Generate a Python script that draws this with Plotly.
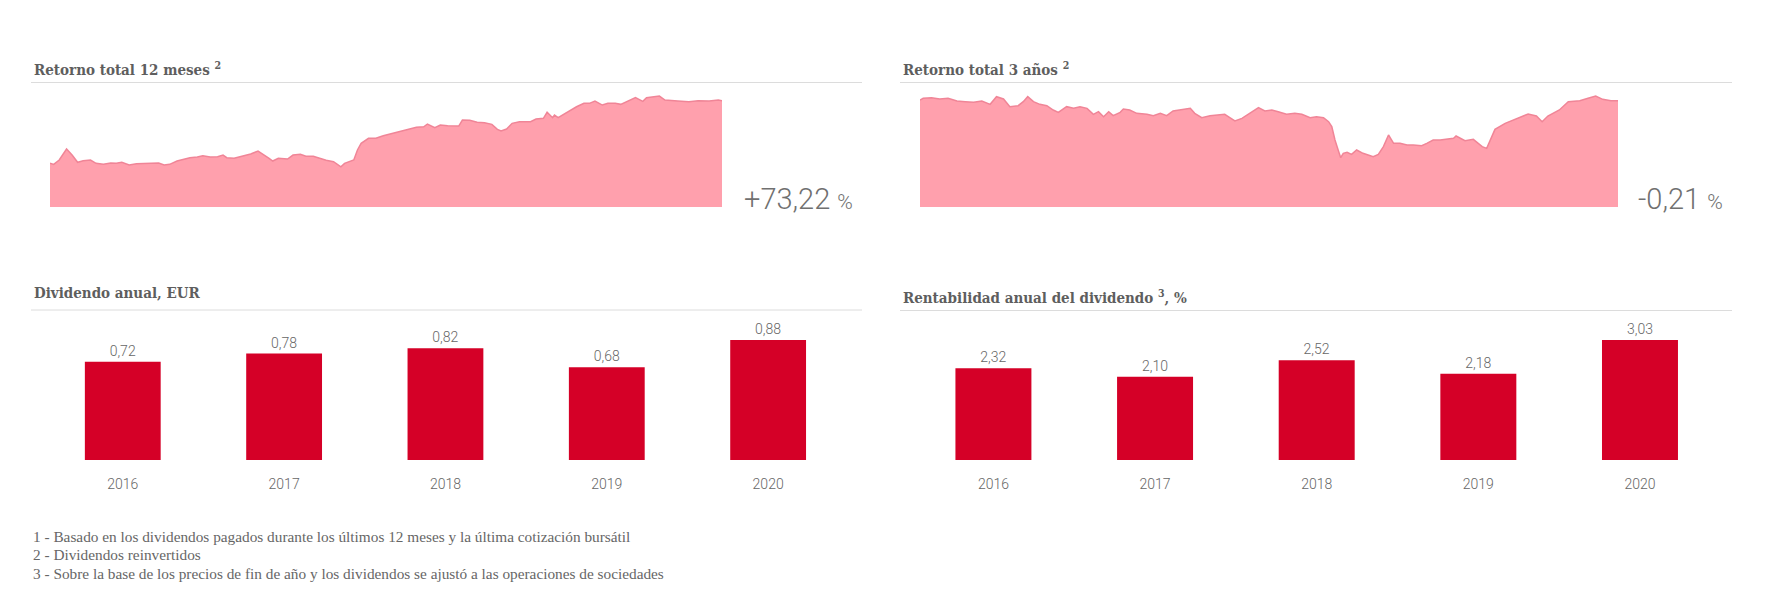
import plotly.graph_objects as go

W, H = 1777, 601

# ---------------- data ----------------
ret12_days = [0, 2, 5, 9, 12, 15, 18, 22, 25, 29, 33, 36, 39, 43, 47, 51, 54, 59, 62, 65, 69, 72, 76, 80, 83,
              87, 91, 94, 96, 100, 103, 109, 113, 116, 119, 121, 124, 129, 132, 136, 139, 143, 147, 150, 154,
              158, 160, 165, 167, 169, 173, 177, 181, 186, 190, 195, 199, 203, 205, 209, 212, 216, 222, 224,
              228, 232, 236, 240, 243, 245, 248, 251, 255, 261, 264, 268, 270, 273, 274, 276, 279, 282, 286,
              290, 293, 296, 300, 303, 307, 310, 313, 318, 322, 324, 331, 334, 341, 347, 352, 358, 363, 365]
ret12_vals = [100.0, 98.8, 103.9, 116.7, 109.7, 101.2, 103.0, 103.9, 100.0, 98.8, 100.4, 100.0, 101.2, 98.0,
              99.5, 100.0, 100.0, 100.4, 98.0, 98.8, 102.7, 104.7, 106.6, 107.4, 108.9, 107.4, 107.7, 109.7,
              106.6, 105.9, 107.7, 110.9, 114.4, 110.5, 105.9, 102.7, 105.9, 105.0, 109.7, 110.5, 108.2,
              108.2, 105.0, 103.5, 101.9, 96.0, 100.0, 103.9, 115.6, 123.4, 129.3, 129.3, 132.3, 135.1,
              137.8, 140.1, 142.1, 142.8, 146.0, 141.7, 144.8, 144.0, 143.6, 150.7, 150.3, 148.0, 147.5,
              145.6, 139.8, 137.8, 140.1, 146.8, 148.7, 148.7, 151.8, 152.7, 159.7, 153.4, 156.5, 153.4,
              157.3, 161.2, 166.2, 170.2, 170.2, 172.9, 168.2, 170.2, 170.2, 169.0, 172.1, 176.8, 172.5,
              176.8, 178.7, 174.1, 172.9, 172.1, 173.2, 172.9, 174.1, 173.22]

ret3_days = [0, 5, 18, 31, 44, 58, 71, 84, 97, 110, 120, 131, 141, 154, 162, 169, 178, 188, 199, 209, 217,
             230, 241, 251, 262, 272, 280, 288, 296, 303, 314, 319, 329, 340, 356, 366, 377, 387, 397, 411,
             424, 431, 442, 455, 468, 478, 486, 494, 505, 515, 526, 531, 541, 552, 562, 575, 588, 599, 612,
             622, 633, 641, 646, 651, 656, 660, 664, 670, 677, 685, 695, 703, 711, 719, 727, 735, 743, 753,
             764, 774, 787, 795, 805, 816, 837, 841, 855, 868, 882, 889, 902, 918, 936, 954, 967, 976, 985,
             1003, 1017, 1035, 1048, 1060, 1071, 1084, 1095]
ret3_vals = [100.0, 100.5, 100.7, 100.3, 100.5, 99.7, 99.5, 99.3, 99.7, 98.7, 101.0, 100.3, 98.0, 98.3, 99.5,
             101.0, 99.5, 98.7, 98.3, 97.0, 96.3, 98.0, 97.5, 98.0, 97.5, 95.7, 96.5, 95.0, 96.5, 95.3, 96.3,
             97.3, 97.0, 96.0, 95.7, 95.3, 96.0, 95.3, 96.7, 97.0, 97.5, 96.0, 94.7, 95.3, 95.5, 95.7, 94.7,
             93.7, 94.5, 95.7, 97.0, 97.7, 96.7, 97.0, 96.5, 95.7, 96.0, 95.7, 94.7, 95.0, 94.7, 93.5, 92.0,
             88.0, 85.0, 82.7, 84.0, 84.3, 83.7, 85.0, 84.0, 83.5, 83.0, 83.7, 86.0, 89.5, 87.0, 87.0, 86.5,
             86.5, 86.3, 87.0, 88.0, 88.0, 88.5, 89.2, 87.8, 88.2, 86.0, 85.5, 91.2, 93.0, 94.5, 95.8, 95.2,
             93.5, 95.2, 97.0, 99.5, 99.8, 100.5, 101.2, 100.2, 99.8, 99.79]

years = ["2016", "2017", "2018", "2019", "2020"]
dividend_eur = [0.72, 0.78, 0.82, 0.68, 0.88]
dividend_yield = [2.32, 2.10, 2.52, 2.18, 3.03]

titles = ["Retorno total 12 meses <sup>2</sup>", "Retorno total 3 años <sup>2</sup>",
          "Dividendo anual, EUR", "Rentabilidad anual del dividendo <sup>3</sup>, %"]
total_returns = ["+73,22", "-0,21"]
footnotes = [
    "1 - Basado en los dividendos pagados durante los últimos 12 meses y la última cotización bursátil",
    "2 - Dividendos reinvertidos",
    "3 - Sobre la base de los precios de fin de año y los dividendos se ajustó a las operaciones de sociedades",
]

# ---------------- styling helpers ----------------
def fx(p):
    return p / W

def fy(p):
    return 1 - p / H

AREA_FILL = "#ffa0ad"
AREA_LINE = "#f08597"
BAR = "#d50027"
GREY = "#666666"
TITLE_FONT = dict(family="DejaVu Serif Condensed, DejaVu Serif, serif", size=15, color="#5e5e5e", weight="bold")
LIGHT_FONT = "Roboto, sans-serif"

fig = go.Figure()

fig.add_trace(go.Scatter(x=ret12_days, y=ret12_vals, mode="lines", fill="tozeroy",
                         fillcolor=AREA_FILL, line=dict(color=AREA_LINE, width=1.5),
                         xaxis="x", yaxis="y", hoverinfo="skip"))
fig.add_trace(go.Scatter(x=ret3_days, y=ret3_vals, mode="lines", fill="tozeroy",
                         fillcolor=AREA_FILL, line=dict(color=AREA_LINE, width=1.5),
                         xaxis="x2", yaxis="y2", hoverinfo="skip"))

bar_text_font = dict(family=LIGHT_FONT, size=14, color=GREY, weight=300)
fig.add_trace(go.Bar(x=years, y=dividend_eur, marker=dict(color=BAR, line=dict(width=0)),
                     texttemplate="%{y:.2f}", textposition="outside", textfont=bar_text_font,
                     cliponaxis=False, xaxis="x3", yaxis="y3"))
fig.add_trace(go.Bar(x=years, y=dividend_yield, marker=dict(color=BAR, line=dict(width=0)),
                     texttemplate="%{y:.2f}", textposition="outside", textfont=bar_text_font,
                     cliponaxis=False, xaxis="x4", yaxis="y4"))

hidden = dict(visible=False, fixedrange=True)
tick_font = dict(family=LIGHT_FONT, size=14, color=GREY, weight=300)
bar_x = dict(showgrid=False, zeroline=False, showline=False, ticks="", tickfont=tick_font,
             ticklabelstandoff=14, fixedrange=True, type="category")

fig.update_layout(
    width=W, height=H,
    margin=dict(l=0, r=0, t=0, b=0),
    paper_bgcolor="white", plot_bgcolor="white",
    showlegend=False,
    separators=",.",
    bargap=0.53,
    xaxis=dict(domain=[fx(50), fx(722)], range=[0, 365], anchor="y", **hidden),
    yaxis=dict(domain=[fy(207), fy(90)], range=[48.9, 185.8], anchor="x", **hidden),
    xaxis2=dict(domain=[fx(920), fx(1618)], range=[0, 1095], anchor="y2", **hidden),
    yaxis2=dict(domain=[fy(207), fy(90)], range=[67.9, 103.0], anchor="x2", **hidden),
    xaxis3=dict(domain=[fx(42.1), fx(848.8)], anchor="y3", **bar_x),
    yaxis3=dict(domain=[fy(460), fy(320)], range=[0, 140 / 136.4], anchor="x3", **hidden),
    xaxis4=dict(domain=[fx(912.6), fx(1720.8)], anchor="y4", **bar_x),
    yaxis4=dict(domain=[fy(460), fy(320)], range=[0, 140 / 39.6], anchor="x4", **hidden),
)

# section titles and separator lines
title_pos = [(32, 69), (901, 69), (32, 293), (901, 297)]
line_pos = [(31, 862, 82.5), (900, 1732, 82.5), (31, 862, 310), (900, 1732, 310.5)]
for t, (x, y) in zip(titles, title_pos):
    fig.add_annotation(text=t, x=fx(x), y=fy(y), xref="paper", yref="paper",
                       xanchor="left", yanchor="middle", showarrow=False, font=TITLE_FONT)
for x0, x1, y in line_pos:
    fig.add_shape(type="line", xref="paper", yref="paper", x0=fx(x0), x1=fx(x1), y0=fy(y), y1=fy(y),
                  line=dict(color="#dcdcdc", width=1))

# total return figures
ret_pos = [(742, 199), (1636, 199)]
for t, (x, y) in zip(total_returns, ret_pos):
    fig.add_annotation(text=t + " <span style='font-size:21px'>%</span>", x=fx(x), y=fy(y),
                       xref="paper", yref="paper", xanchor="left", yanchor="middle", showarrow=False,
                       font=dict(family=LIGHT_FONT, size=29, color="#707070", weight=300))

# footnotes
for i, t in enumerate(footnotes):
    fig.add_annotation(text=t, x=fx(31), y=fy(536 + i * 18.5), xref="paper", yref="paper",
                       xanchor="left", yanchor="middle", showarrow=False,
                       font=dict(family="Liberation Serif, serif", size=15.3, color=GREY))

fig.write_html("out.html", config={"displayModeBar": False},
               post_script="document.body.style.margin='0px';")
